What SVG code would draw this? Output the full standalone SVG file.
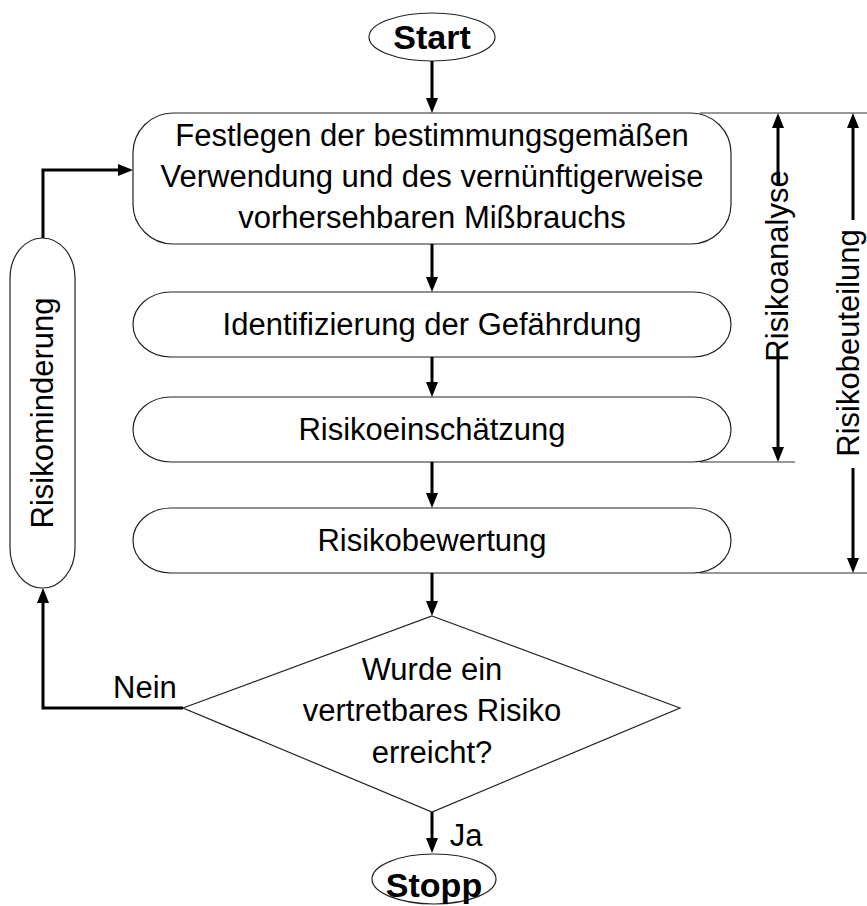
<svg xmlns="http://www.w3.org/2000/svg" width="867" height="906" viewBox="0 0 867 906">
<defs>
<style>
.shape{fill:#fff;stroke:#222;stroke-width:1.2}
.t{font-family:"Liberation Sans",Arial,sans-serif;font-size:31px;fill:#000;text-anchor:middle}
.b{font-family:"Liberation Sans",Arial,sans-serif;font-size:34px;font-weight:bold;fill:#000;text-anchor:middle}
.c{fill:none;stroke:#000;stroke-width:3}
.thin{fill:none;stroke:#333;stroke-width:1.2}
</style>
<marker id="ah" viewBox="0 0 15 12" refX="5" refY="6" markerWidth="5" markerHeight="4" markerUnits="strokeWidth" orient="auto">
<path d="M0,0 L15,6 L0,12 z" fill="#000"/>
</marker>
</defs>
<rect width="867" height="906" fill="#fff"/>

<g id="start">
<ellipse class="shape" cx="432" cy="37" rx="63" ry="24"/>
<text class="b" x="432" y="49">Start</text>
</g>

<g id="festlegen">
<rect class="shape" x="133" y="113" width="598" height="131" rx="40" ry="40"/>
<text class="t" x="432" y="146">Festlegen der bestimmungsgemäßen</text>
<text class="t" x="432" y="187">Verwendung und des vernünftigerweise</text>
<text class="t" x="432" y="228">vorhersehbaren Mißbrauchs</text>
</g>

<g id="identifizierung">
<rect class="shape" x="133" y="292" width="598" height="65" rx="38" ry="32.5"/>
<text class="t" x="432" y="335">Identifizierung der Gefährdung</text>
</g>

<g id="einschaetzung">
<rect class="shape" x="133" y="397" width="598" height="65" rx="38" ry="32.5"/>
<text class="t" x="432" y="440">Risikoeinschätzung</text>
</g>

<g id="bewertung">
<rect class="shape" x="133" y="508" width="598" height="65" rx="38" ry="32.5"/>
<text class="t" x="432" y="551">Risikobewertung</text>
</g>

<g id="entscheidung">
<polygon class="shape" points="432,616 680,708 432,812 183,708"/>
<text class="t" x="432" y="680">Wurde ein</text>
<text class="t" x="432" y="721">vertretbares Risiko</text>
<text class="t" x="432" y="763">erreicht?</text>
</g>

<g id="minderung">
<rect class="shape" x="10" y="238" width="65" height="350" rx="32.5" ry="40"/>
<text class="t" transform="translate(53,413) rotate(-90)" x="0" y="0">Risikominderung</text>
</g>

<g id="stopp">
<ellipse class="shape" cx="434" cy="879" rx="62" ry="25"/>
<text class="b" x="434" y="897">Stopp</text>
</g>

<g id="connectors">
<line class="c" x1="432" y1="61" x2="432" y2="103" marker-end="url(#ah)"/>
<line class="c" x1="432" y1="244" x2="432" y2="282" marker-end="url(#ah)"/>
<line class="c" x1="432" y1="357" x2="432" y2="387" marker-end="url(#ah)"/>
<line class="c" x1="432" y1="462" x2="432" y2="498" marker-end="url(#ah)"/>
<line class="c" x1="432" y1="573" x2="432" y2="606" marker-end="url(#ah)"/>
<line class="c" x1="432" y1="812" x2="432" y2="843" marker-end="url(#ah)"/>
<polyline class="c" points="183,708 43,708 43,598" marker-end="url(#ah)"/>
<polyline class="c" points="43,238 43,170 123,170" marker-end="url(#ah)"/>
<text class="t" x="145" y="698">Nein</text>
<text class="t" x="466" y="846">Ja</text>
</g>

<g id="brackets">
<line class="thin" x1="700" y1="113" x2="867" y2="113"/>
<line class="thin" x1="700" y1="462" x2="795" y2="462"/>
<line class="thin" x1="700" y1="573" x2="867" y2="573"/>
<line class="c" x1="778" y1="184" x2="778" y2="123" marker-end="url(#ah)"/>
<line class="c" x1="778" y1="348" x2="778" y2="452" marker-end="url(#ah)"/>
<text class="t" transform="translate(788,266) rotate(-90)" x="0" y="0">Risikoanalyse</text>
<line class="c" x1="853" y1="220" x2="853" y2="123" marker-end="url(#ah)"/>
<line class="c" x1="853" y1="468" x2="853" y2="563" marker-end="url(#ah)"/>
<text class="t" transform="translate(859,343) rotate(-90)" x="0" y="0">Risikobeuteilung</text>
</g>
</svg>
